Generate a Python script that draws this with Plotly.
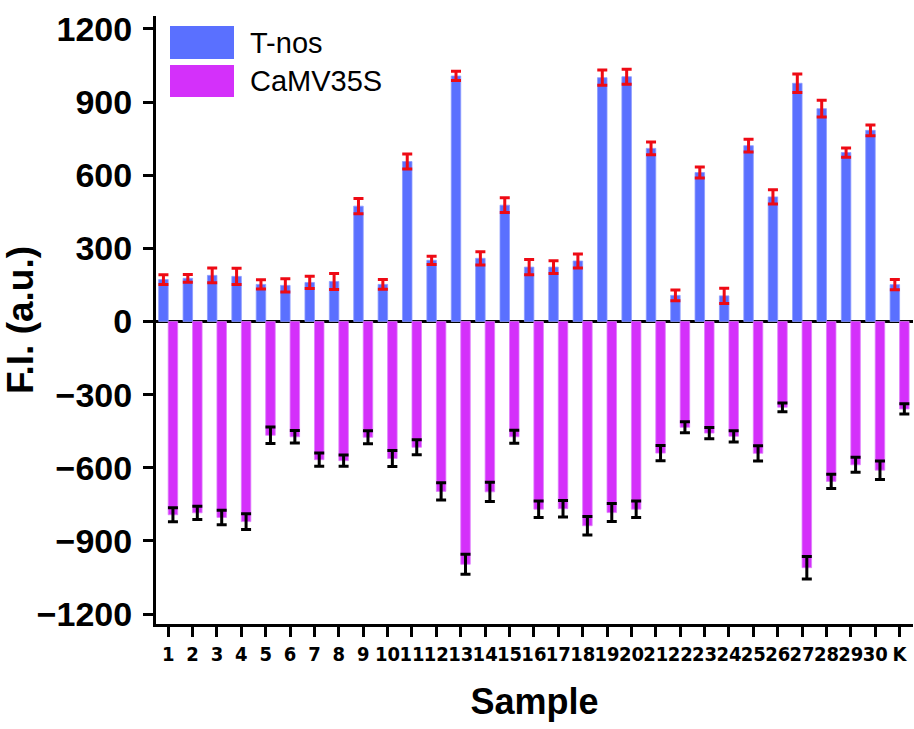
import plotly.graph_objects as go

# Samples 1-30 plus the blank control K
samples = [str(i) for i in range(1, 31)] + ["K"]

tnos = [172, 177, 189, 185, 152, 148, 160, 164, 473, 152,
        656, 251, 1007, 259, 477, 223, 223, 248, 1000, 1004,
        710, 107, 611, 105, 721, 511, 977, 873, 693, 784, 151]
tnos_err = [20, 16, 30, 33, 19, 27, 25, 33, 31, 20,
            31, 17, 19, 27, 30, 31, 26, 29, 31, 31,
            26, 22, 23, 31, 26, 29, 38, 34, 19, 22, 21]

camv = [-793, -785, -804, -821, -467, -473, -567, -571, -475, -562,
        -516, -697, -996, -699, -473, -770, -768, -838, -784, -770,
        -540, -434, -458, -471, -541, -352, -1010, -656, -588, -610, -359]
camv_err = [29, 27, 30, 32, 34, 26, 27, 23, 27, 33,
            31, 35, 41, 39, 27, 34, 34, 38, 37, 34,
            31, 23, 23, 23, 31, 18, 46, 29, 31, 38, 21]

y_ticks = [-1200, -900, -600, -300, 0, 300, 600, 900, 1200]

BLUE = "#5A70FF"
MAGENTA = "#D430FA"
FONT = "Liberation Sans"
NARROW = "DejaVu Sans Condensed, Liberation Sans Narrow, Arial Narrow, Liberation Sans"

W, H = 914, 729
L, R, T, B = 156, 1, 16, 105

fig = go.Figure()
fig.add_trace(go.Bar(
    x=samples, y=tnos, name="T-nos",
    marker=dict(color=BLUE, line=dict(color="#8C9BFF", width=0.8)),
    error_y=dict(type="data", array=tnos_err, color="#EE0A14",
                 thickness=3, width=5, visible=True),
))
fig.add_trace(go.Bar(
    x=samples, y=camv, name="CaMV35S",
    marker=dict(color=MAGENTA, line=dict(color="#E07CFC", width=0.8)),
    error_y=dict(type="data", array=camv_err, color="#000000",
                 thickness=3, width=5, visible=True),
))

# Legend drawn by hand with large swatches
pw, ph = W - L - R, H - T - B


def px_x(x):
    return (x - L) / pw


def px_y(y):
    return (H - B - y) / ph


legend_items = [("T-nos", BLUE, 26, 59), ("CaMV35S", MAGENTA, 65, 97)]
shapes = []
annotations = []
for label, color, y0, y1 in legend_items:
    shapes.append(dict(type="rect", xref="paper", yref="paper",
                       x0=px_x(170), x1=px_x(234), y0=px_y(y1), y1=px_y(y0),
                       fillcolor=color, line=dict(width=0)))
    annotations.append(dict(xref="paper", yref="paper", x=px_x(248),
                            y=px_y((y0 + y1) / 2), text=label, showarrow=False,
                            xanchor="left", yanchor="middle",
                            font=dict(family=FONT, size=29, color="black")))

fig.update_layout(
    width=W, height=H,
    margin=dict(l=L, r=R, t=T, b=B),
    paper_bgcolor="white", plot_bgcolor="white",
    barmode="group", bargap=0.22, bargroupgap=0,
    showlegend=False,
    shapes=shapes, annotations=annotations,
)

fig.update_xaxes(
    type="category", range=[-0.5, 30.55],
    tickmode="array", tickvals=samples, ticktext=samples,
    showline=True, linecolor="black", linewidth=3,
    ticks="outside", ticklen=10, tickwidth=3, tickcolor="black",
    tickangle=0,
    tickfont=dict(family=NARROW, size=20, color="black", weight="bold"),
    title=dict(text="Sample", standoff=24,
               font=dict(family=FONT, size=36, color="black", weight="bold")),
    showgrid=False, automargin=False,
)

fig.update_yaxes(
    range=[-1241, 1253],
    tickvals=y_ticks,
    showline=True, linecolor="black", linewidth=3,
    ticks="outside", ticklen=10, tickwidth=3, tickcolor="black",
    ticklabelstandoff=4,
    tickfont=dict(family=FONT, size=34, color="black", weight="bold"),
    zeroline=True, zerolinecolor="black", zerolinewidth=3,
    title=dict(text="F.I. (a.u.)", standoff=0,
               font=dict(family=FONT, size=37, color="black", weight="bold")),
    showgrid=False, automargin=False,
)

fig.write_html("out.html")
